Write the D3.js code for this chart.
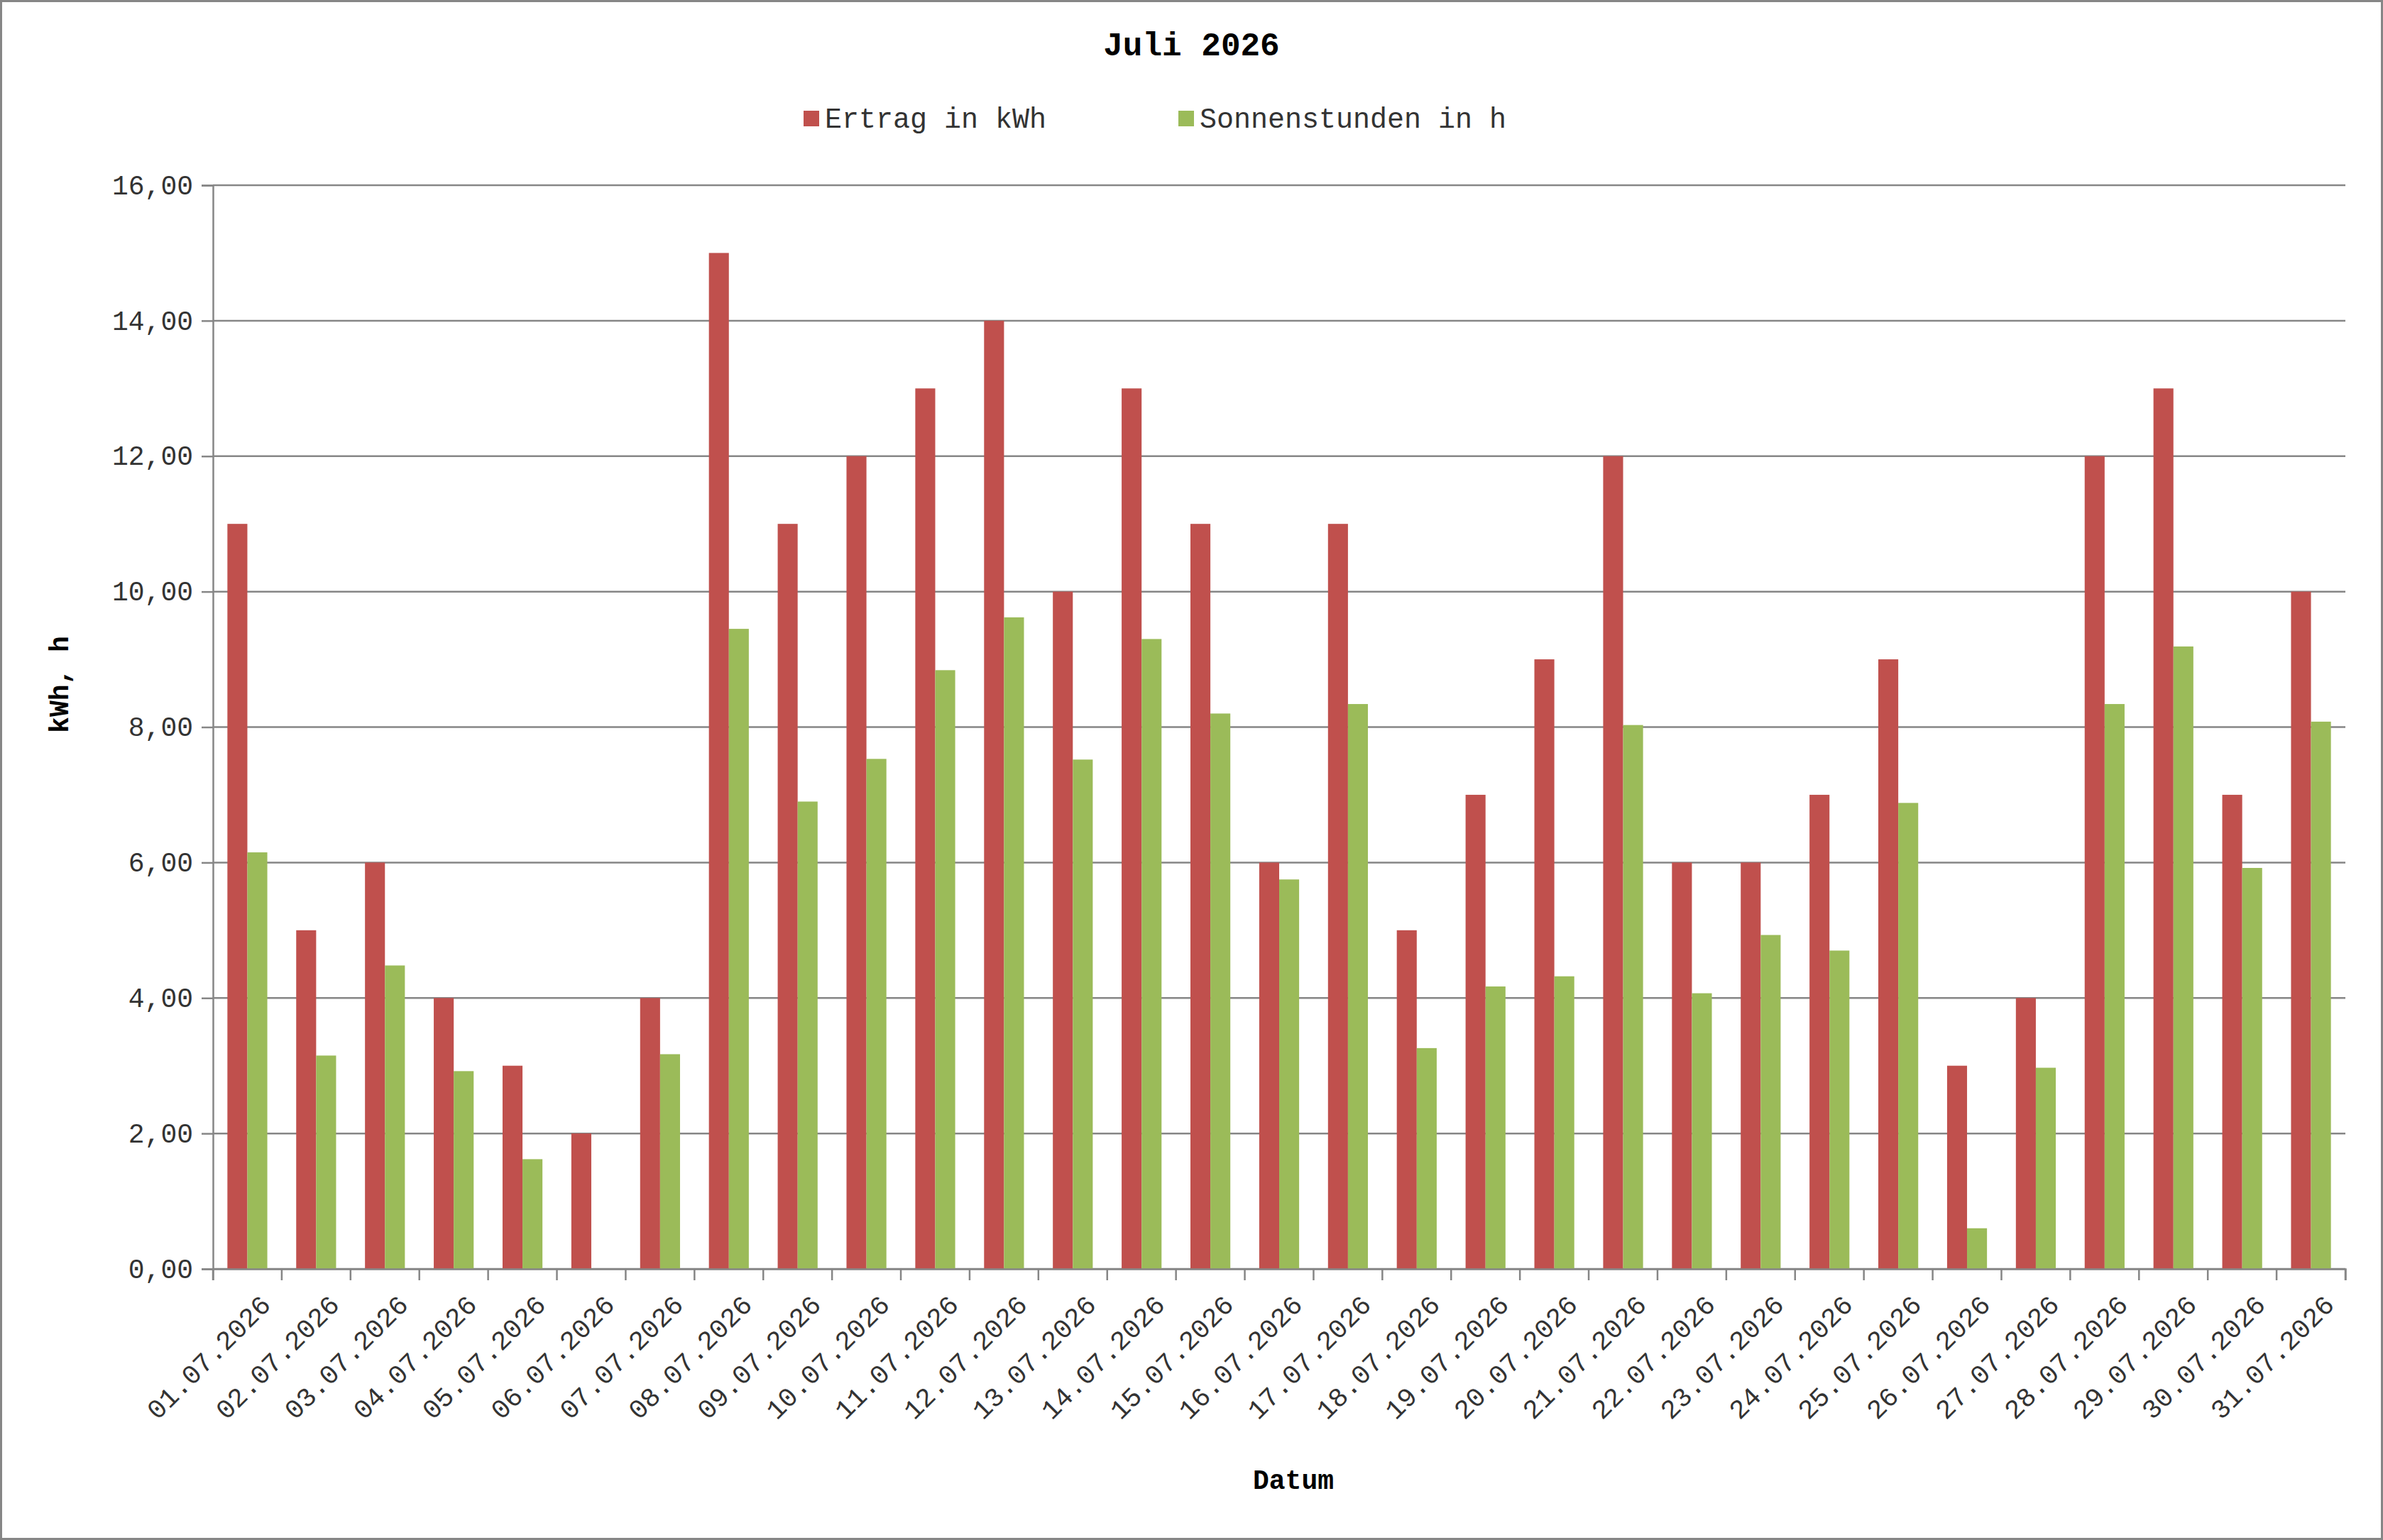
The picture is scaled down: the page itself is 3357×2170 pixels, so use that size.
<!DOCTYPE html>
<html><head><meta charset="utf-8">
<script src="https://cdn.jsdelivr.net/npm/d3@7"></script>
<style>body{margin:0;background:#fff}</style>
</head><body>
<script>
var tage = d3.range(1, 32).map(function(d) { return (d < 10 ? "0" + d : "" + d) + ".07.2026"; });
var ertrag = [11,5,6,4,3,2,4,15,11,12,13,14,10,13,11,6,11,5,7,9,12,6,6,7,9,3,4,12,13,7,10];
var sonne = [6.15,3.15,4.48,2.92,1.62,0,3.17,9.45,6.9,7.53,8.84,9.62,7.52,9.3,8.2,5.75,8.34,3.26,4.17,4.32,8.03,4.07,4.93,4.7,6.88,0.6,2.97,8.34,9.19,5.92,8.08];
var yTicks = [0,2,4,6,8,10,12,14,16];

var W = 3357, H = 2170;
var m = {top: 261, right: 53, bottom: 382, left: 300};
var w = W - m.left - m.right, h = H - m.top - m.bottom;
var font = "'Liberation Mono', 'Courier New', monospace";

var svg = d3.select("body").append("svg").attr("width", W).attr("height", H);
svg.append("rect").attr("x", 1.5).attr("y", 1.5).attr("width", W - 3).attr("height", H - 3)
    .attr("fill", "#fff").attr("stroke", "#868686").attr("stroke-width", 3);

var x = d3.scaleBand().domain(tage).range([0, w]);
var y = d3.scaleLinear().domain([0, 16]).range([h, 0]);
var fmt = function(v) { return d3.format(".2f")(v).replace(".", ","); };

var g = svg.append("g").attr("transform", "translate(" + m.left + "," + m.top + ")");

// grid
g.selectAll(".grid").data(yTicks).enter().append("line")
    .attr("x1", 0).attr("x2", w).attr("y1", function(d) { return y(d); }).attr("y2", function(d) { return y(d); })
    .attr("stroke", "#868686").attr("stroke-width", 2.5);

var bw = x.bandwidth() * 0.29;
var off = (x.bandwidth() - 2 * bw) / 2;
g.selectAll(".r").data(ertrag).enter().append("rect")
    .attr("x", function(d, i) { return x(tage[i]) + off; })
    .attr("y", function(d) { return y(d); })
    .attr("width", bw).attr("height", function(d) { return h - y(d); })
    .attr("fill", "#C0504D");
g.selectAll(".s").data(sonne).enter().append("rect")
    .attr("x", function(d, i) { return x(tage[i]) + off + bw; })
    .attr("y", function(d) { return y(d); })
    .attr("width", bw).attr("height", function(d) { return h - y(d); })
    .attr("fill", "#9BBB59");

// axes
var ya = g.append("g").call(d3.axisLeft(y).tickValues(yTicks).tickFormat(fmt).tickSize(16).tickPadding(12));
var xa = g.append("g").attr("transform", "translate(0," + h + ")")
    .call(d3.axisBottom(x).tickSize(16).tickFormat(function(d) { return d; }));
// move ticks to band edges
xa.selectAll(".tick line").attr("x1", -x.bandwidth() / 2).attr("x2", -x.bandwidth() / 2);
g.append("line").attr("x1", w).attr("x2", w).attr("y1", h).attr("y2", h + 16).attr("stroke", "#868686").attr("stroke-width", 2.5);
[ya, xa].forEach(function(a) {
    a.select(".domain").attr("stroke", "#868686").attr("stroke-width", 2.5);
    a.selectAll(".tick line").attr("stroke", "#868686").attr("stroke-width", 2.5);
    a.selectAll("text").attr("font-family", font).attr("font-size", 38).attr("fill", "#333");
});
xa.selectAll("text").attr("text-anchor", "end").attr("dy", "0.35em")
    .attr("transform", "translate(12,30) rotate(-45)");

// titles
svg.append("text").attr("x", W / 2).attr("y", 78).attr("text-anchor", "middle")
    .attr("font-family", font).attr("font-weight", "bold").attr("font-size", 46).text("Juli 2026");
svg.append("text").attr("x", m.left + w / 2 + 20).attr("y", 2098).attr("text-anchor", "middle")
    .attr("font-family", font).attr("font-weight", "bold").attr("font-size", 38).text("Datum");
svg.append("text").attr("transform", "translate(96," + (m.top + h / 2 - 60) + ") rotate(-90)").attr("text-anchor", "middle")
    .attr("font-family", font).attr("font-weight", "bold").attr("font-size", 38).text("kWh, h");

// legend
var leg = [{n: "Ertrag in kWh", c: "#C0504D", x: 1132}, {n: "Sonnenstunden in h", c: "#9BBB59", x: 1660}];
var lg = svg.selectAll(".leg").data(leg).enter().append("g");
lg.append("rect").attr("x", function(d) { return d.x; }).attr("y", 156).attr("width", 22).attr("height", 22).attr("fill", function(d) { return d.c; });
lg.append("text").attr("x", function(d) { return d.x + 30; }).attr("y", 180)
    .attr("font-family", font).attr("font-size", 40).attr("fill", "#333").text(function(d) { return d.n; });
</script>
</body></html>
